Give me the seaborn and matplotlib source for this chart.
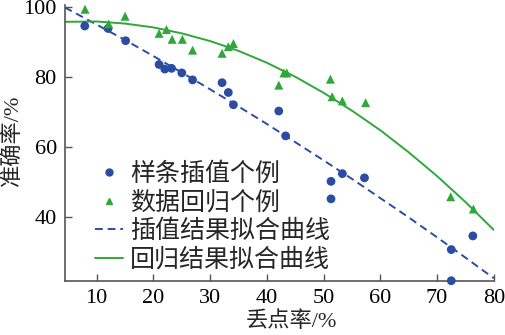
import matplotlib
matplotlib.use("Agg")
import matplotlib.pyplot as plt
import seaborn as sns
import pandas as pd
from matplotlib.lines import Line2D

# ---- data ----
spline_x = [7.9, 12.0, 15.1, 21.0, 22.0, 23.2, 25.0, 26.9, 32.1, 33.2, 34.1, 42.1, 43.3,
            51.3, 51.3, 53.3, 57.2, 72.5, 72.5, 76.3]
spline_y = [94.5, 93.8, 90.3, 83.5, 82.2, 82.4, 81.1, 79.1, 78.3, 75.5, 72.0, 70.2, 63.1,
            50.1, 45.1, 52.3, 51.1, 30.6, 21.7, 34.5]

regr_x = [7.95, 12.1, 15.0, 21.0, 22.3, 23.3, 25.1, 26.9, 32.1, 33.2, 34.1, 42.1, 43.0, 43.5,
          51.2, 51.5, 53.3, 57.4, 72.4, 76.4]
regr_y = [99.3, 95.1, 97.3, 92.4, 93.5, 90.7, 90.7, 87.6, 86.7, 88.6, 89.5, 77.6, 81.1, 81.1,
          79.3, 74.3, 73.1, 72.6, 45.7, 42.2]

fit_interp_x = [4.4, 10, 15, 20, 25, 30, 35, 40, 45, 50, 55, 60, 65, 70, 75, 80]
fit_interp_y = [99.8, 94.9, 90.5, 85.9, 81.2, 76.4, 71.5, 66.5, 61.3, 56.1, 50.8, 45.3, 39.8,
                34.1, 28.3, 22.4]

fit_regr_x = [4.5, 10, 15, 20, 25, 30, 35, 40, 45, 50, 55, 60, 65, 70, 75, 80]
fit_regr_y = [95.7, 95.8, 95.2, 94.1, 92.4, 90.2, 87.4, 84.0, 80.0, 75.4, 70.3, 64.7, 58.4,
              51.6, 44.2, 36.2]

labels = ["样条插值个例", "数据回归个例", "插值结果拟合曲线", "回归结果拟合曲线"]
x_ticks = [10, 20, 30, 40, 50, 60, 70, 80]
y_ticks = [40, 60, 80, 100]
x_label = "丢点率/%"
y_label = "准确率/%"

BLUE = "#2a4da3"
GREEN = "#2fa83a"
DASH = (0, (4, 2.5))

sns.set_theme(style="white")
plt.rcParams['font.family'] = ['Liberation Serif', 'Noto Sans CJK SC', 'DejaVu Sans']
plt.rcParams['axes.unicode_minus'] = False

fig = plt.figure(figsize=(5.05, 3.35), dpi=100)
ax = fig.add_axes([0.129, 0.161, 0.850, 0.824])

df_s = pd.DataFrame({"x": spline_x, "y": spline_y})
df_r = pd.DataFrame({"x": regr_x, "y": regr_y})
df_fi = pd.DataFrame({"x": fit_interp_x, "y": fit_interp_y})
df_fr = pd.DataFrame({"x": fit_regr_x, "y": fit_regr_y})

sns.lineplot(data=df_fi, x="x", y="y", ax=ax, color=BLUE, lw=1.4, linestyle=DASH,
             sort=True, zorder=2)
sns.lineplot(data=df_fr, x="x", y="y", ax=ax, color=GREEN, lw=1.4, sort=True, zorder=2)
sns.scatterplot(data=df_s, x="x", y="y", ax=ax, color=BLUE, marker="o", s=40,
                edgecolor="none", zorder=3, clip_on=False)
sns.scatterplot(data=df_r, x="x", y="y", ax=ax, color=GREEN, marker="^", s=42,
                edgecolor="none", zorder=3)

ax.set_xlim(4.44, 80.1)
ax.set_ylim(21.6, 100.5)
ax.set_xticks(x_ticks)
ax.set_yticks(y_ticks)
ax.set_xlabel(x_label, fontsize=16)
ax.set_ylabel(y_label, fontsize=16)
ax.xaxis.set_label_coords(0.528, -0.108)
ax.yaxis.set_label_coords(-0.097, 0.51)
ax.tick_params(direction="in", length=5, width=1, colors="#555555", labelcolor="black",
               labelsize=16, pad=6, left=True, bottom=True)
for side in ["top", "right"]:
    ax.spines[side].set_visible(False)
for side in ["left", "bottom"]:
    ax.spines[side].set_color("#555555")
    ax.spines[side].set_linewidth(1.2)

handles = [
    Line2D([], [], color=BLUE, marker="o", linestyle="none", markersize=5),
    Line2D([], [], color=GREEN, marker="^", linestyle="none", markersize=5),
    Line2D([], [], color=BLUE, lw=1.4, linestyle=DASH),
    Line2D([], [], color=GREEN, lw=1.4),
]
ax.legend(handles, labels, loc="upper left", bbox_to_anchor=(0.069, 0.43), frameon=False,
          fontsize=18, handlelength=1.12, handletextpad=0.3, labelspacing=0.2,
          borderpad=0, borderaxespad=0)

fig.savefig("out.png", dpi=100)
